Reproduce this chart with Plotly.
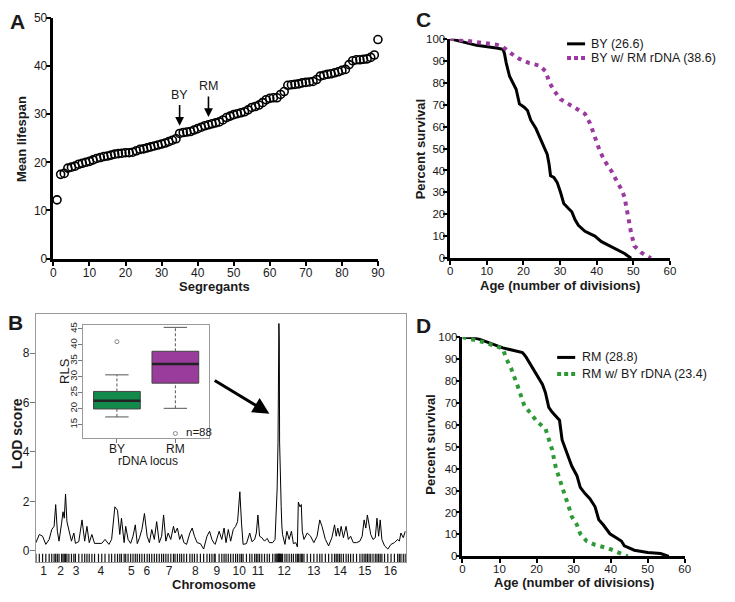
import plotly.graph_objects as go

# ---------------- data ----------------
# Panel A: mean lifespan of segregants (sorted)
segregant_rank = list(range(1, 91))
segregant_lifespan = [
    12.2, 17.5, 17.7, 18.8, 19.0, 19.2, 19.6, 19.8, 20.0, 20.2,
    20.5, 20.8, 21.0, 21.2, 21.3, 21.5, 21.7, 21.8, 21.9, 22.0,
    22.0, 22.1, 22.4, 22.7, 22.8, 23.0, 23.2, 23.4, 23.6, 23.8,
    24.0, 24.3, 24.6, 24.9, 26.0, 26.2, 26.3, 26.4, 26.7, 27.0,
    27.3, 27.6, 27.8, 28.0, 28.2, 28.4, 28.8, 29.3, 29.6, 29.9,
    30.1, 30.3, 30.5, 30.9, 31.4, 31.6, 31.9, 32.4, 33.0, 33.3,
    33.4, 33.4, 34.1, 34.7, 36.0, 36.1, 36.2, 36.3, 36.5, 36.6,
    36.7, 36.8, 37.2, 37.9, 38.1, 38.3, 38.4, 38.6, 38.8, 39.1,
    39.3, 40.3, 41.1, 41.3, 41.3, 41.4, 41.5, 41.8, 42.3, 45.5,
]
parent_labels = ["BY", "RM"]
parent_rank = [35, 43]

# Panel B: LOD profile along the genome
lod_pos = [
    0, 3.4, 6.7, 10, 13.4, 16, 18.4, 20, 21.7, 23.4, 26, 27.4, 28.7, 30, 31.4, 33.4,
    36, 38.4, 40, 43.4, 46.7, 49.4, 51.7, 54, 56.7, 59.4, 63.4, 66.7, 70, 74, 76.7,
    80, 82.7, 85, 86.7, 89.4, 91, 93.4, 96, 98.4, 100.7, 102.7, 105, 107.4, 110,
    112.7, 115, 117.4, 120, 122.4, 125, 127.4, 129.4, 131.7, 134, 136.7, 139.4, 141,
    143.4, 145.7, 147.7, 150, 152.7, 156, 158.4, 160.7, 163.4, 166.7, 170, 173.4,
    176, 178.4, 180.7, 181.7, 185.7, 188.4, 190.7, 192.7, 195, 197.4, 200, 202.4,
    204.4, 206.7, 208.4, 210, 213.4, 216.7, 219, 221.7, 223.4, 225, 226.7, 229,
    231.7, 234.4, 236.7, 240, 242.4, 243.5, 244.5, 245.4, 245.9, 246.3, 246.7, 247.0,
    247.8, 248.6, 249.3, 250, 252.4, 254.4, 256.7, 259, 261, 263.4, 265, 266, 267.7,
    269, 270, 271.7, 275, 278.4, 281.7, 285, 287.7, 290, 293.4, 296.7, 300, 302.7,
    304.4, 306, 307.7, 309.4, 311.7, 314.4, 316.7, 319, 321.7, 325, 328.4, 330.7,
    332.7, 334.4, 336, 337.7, 339.4, 341.7, 344, 345.7, 347.4, 349, 350.7, 353.4,
    356.7, 360, 363.4, 366.7, 368.4, 370, 372.4, 374.4,
]
lod_score = [
    0.33, 0.66, 0.59, 0.26, 0.46, 0.86, 0.99, 1.87, 0.79, 0.39, 1.12, 1.58, 1.32, 2.3, 1.18, 0.79,
    0.39, 0.72, 0.3, 0.37, 1.25, 0.39, 0.99, 0.33, 0.66, 0.3, 0.3, 0.3, 0.46, 0.26, 0.46,
    1.78, 1.64, 0.66, 1.32, 0.33, 0.99, 0.46, 0.3, 0.59, 1.05, 0.29, 0.53, 0.86, 1.51,
    0.59, 0.33, 0.86, 0.46, 1.18, 0.33, 0.59, 1.45, 0.39, 0.72, 0.46, 0.99, 0.72,
    0.92, 0.46, 0.66, 0.33, 0.26, 0.72, 0.92, 0.59, 0.33, 0.29, 0.07, 0.59,
    0.79, 0.46, 0.3, 0.26, 0.79, 0.46, 0.92, 0.33, 0.86, 0.39, 0.86, 0.99,
    1.18, 2.39, 1.12, 0.26, 0.29, 0.72, 0.37, 0.46, 0.72, 1.45, 0.59, 0.53,
    0.39, 0.5, 0.33, 0.33, 0.46, 1.5, 2.5, 4.4, 7.0, 9.2, 8.5, 4.4,
    2.6, 1.8, 1.0, 0.66, 0.26, 0.79, 0.46, 0.79, 0.29, 0.33, 0.16, 1.97, 1.78,
    1.87, 0.79, 0.46, 0.72, 0.59, 0.33, 0.59, 1.25, 0.99, 0.46, 0.2, 0.53, 1.05,
    0.59, 0.92, 0.59, 0.99, 0.53, 0.99, 0.46, 0.59, 0.33, 0.33, 0.39, 0.59,
    1.25, 0.92, 1.45, 1.12, 0.66, 0.46, 0.53, 1.32, 0.59, 1.25, 0.46, 0.2,
    0.07, 0.26, 0.33, 0.46, 0.39, 0.72, 0.53, 0.79,
]
chrom_labels = [str(i) for i in range(1, 17)]
chrom_mid = [7.7, 25, 40.7, 65.7, 96.7, 112.4, 135, 161.7, 183.4, 206, 225, 251.7,
             281.7, 308.4, 333.4, 359.4]

# Inset: RLS by rDNA locus genotype (box statistics)
rdna_groups = ["BY", "RM"]
rls_lower = [17.4, 20.1]
rls_q1 = [19.9, 28.0]
rls_median = [22.5, 34.0]
rls_q3 = [25.4, 38.0]
rls_upper = [30.6, 45.5]
rls_outlier = [41.0, 12.2]
n_segregants = 88

# Panel C: survival, BY vs BY with RM rDNA
by_age = [0, 3.6, 7.2, 12.6, 14.4, 14.8, 15.3, 16.2, 17.1, 18, 18.9, 20.2, 21.1, 22, 23.4,
          25.2, 26.5, 27, 27.4, 28.3, 29.2, 30.1, 31, 32.3, 33.2, 34.1, 35, 36.8, 39.5,
          41.3, 44, 47.6, 49.4]
by_surv = [100, 98.5, 97, 95.8, 95.2, 93.3, 88.9, 82.9, 80, 77, 70.3, 68.8, 67.3, 62.9, 59.1,
           52.5, 47.3, 42.8, 37.6, 36.8, 34.6, 30.2, 25, 22.7, 21.2, 17.5, 15, 12.3, 10.1,
           7.6, 5.3, 2.2, 0]
byrm_age = [0, 3.6, 9, 12.6, 14.4, 16.6, 18.9, 21.6, 24.3, 26.1, 27, 28.3, 30.1, 32.3, 34.6,
            36.8, 38.2, 39.5, 40.9, 42.2, 44, 45.4, 46.7, 47.6, 48.1, 48.5, 49.4, 50.3,
            52.1, 54.8]
byrm_surv = [100, 99.3, 98.2, 97.3, 96.3, 93.3, 90.8, 88.9, 87.8, 85.1, 80.4, 76.5, 72.5,
             70.3, 68.5, 65.8, 61.4, 55.4, 48.7, 44.3, 39.8, 35.4, 31.6, 27.9, 22.7, 18.3,
             11.6, 5.6, 2.7, 0]

# Panel D: survival, RM vs RM with BY rDNA
rm_age = [0, 2.9, 4.7, 6.5, 8.3, 10.9, 13.6, 16.2, 17.1, 18.9, 20.2, 21.6, 22.4, 23.3, 24.2,
          25.6, 26.2, 26.9, 28.2, 29.5, 30.9, 31.8, 33.1, 34.4, 35.8, 36.8, 38, 39.8, 41.5,
          42.9, 43.7, 46.4, 50, 53.5, 55.7]
rm_surv = [100, 99.7, 99, 97.8, 96.6, 95.1, 94, 93, 91.1, 85.9, 82.1, 78.4, 74.7, 68, 65.8,
           63.5, 62.1, 53.1, 47.2, 41.2, 36.8, 31.5, 28.6, 26.3, 22.6, 16.7, 14.4, 10.3,
           8.5, 7, 4.8, 2.8, 1.8, 1.3, 0]
rmby_age = [0, 2.9, 5.6, 8.3, 10.9, 11.8, 13.1, 14.9, 15.8, 16.7, 18.5, 20.2, 22.4, 23.3,
            24.2, 25.2, 26, 26.9, 27.8, 28.7, 29.5, 30.9, 31.8, 33.5, 35.8, 39.3, 41.5, 44.6]
rmby_surv = [100, 99, 97.8, 96.3, 94.8, 90.3, 85.9, 77.7, 73.2, 68.8, 65, 61.3, 58.3, 53.9,
             48.7, 40.5, 36, 32.3, 27.1, 22.6, 18.2, 14.4, 10.3, 7, 5.2, 3.7, 2.2, 0]

legend_c = ["BY (26.6)", "BY w/ RM rDNA (38.6)"]
legend_d = ["RM (28.8)", "RM w/ BY rDNA (23.4)"]

# ---------------- styling helpers ----------------
W, H = 735, 602
OFF = 8  # page body margin offset of the embedded figure
FONT = "Liberation Sans, Arial, Helvetica, sans-serif"
TXT = "#1a1a1a"
PURPLE = "#9b3a9e"
GREEN = "#2e9a35"
BOX_GREEN = "#138a4c"
BOX_PURPLE = "#993c9b"


def fx(p):
    return (p - OFF) / W


def fy(p):
    return 1 - (p - OFF) / H


fig = go.Figure()

# Panel A
fig.add_trace(go.Scatter(
    x=segregant_rank, y=segregant_lifespan, mode="markers", cliponaxis=False,
    marker=dict(symbol="circle-open", size=8, color="black", line=dict(width=1.6, color="black")),
    xaxis="x", yaxis="y", showlegend=False))

# Panel B: LOD curve and marker rug
fig.add_trace(go.Scatter(
    x=lod_pos, y=lod_score, mode="lines", line=dict(color="black", width=1),
    xaxis="x2", yaxis="y2", showlegend=False))
fig.add_trace(go.Scatter(
    x=lod_pos, y=[-0.29] * len(lod_pos), mode="markers",
    marker=dict(symbol="line-ns", size=6, line=dict(width=1.2, color="#111111")),
    xaxis="x2", yaxis="y2", showlegend=False))

# Inset boxplot
box_colors = [BOX_GREEN, BOX_PURPLE]
for i, g in enumerate(rdna_groups):
    xc = i + 1
    fig.add_trace(go.Box(
        x=[xc], q1=[rls_q1[i]], median=[rls_median[i]], q3=[rls_q3[i]],
        lowerfence=[rls_q1[i]], upperfence=[rls_q3[i]], width=0.8, whiskerwidth=0,
        fillcolor=box_colors[i], line=dict(color="#444444", width=1), boxpoints=False,
        xaxis="x3", yaxis="y3", showlegend=False, hoverinfo="skip"))
    for a, b in [(rls_q3[i], rls_upper[i]), (rls_lower[i], rls_q1[i])]:
        fig.add_trace(go.Scatter(
            x=[xc, xc], y=[a, b], mode="lines",
            line=dict(color="#555555", width=1, dash="3px,2px"),
            xaxis="x3", yaxis="y3", showlegend=False))
    for v in [rls_upper[i], rls_lower[i]]:
        fig.add_trace(go.Scatter(
            x=[xc - 0.2, xc + 0.2], y=[v, v], mode="lines",
            line=dict(color="#555555", width=1),
            xaxis="x3", yaxis="y3", showlegend=False))
    fig.add_trace(go.Scatter(
        x=[xc - 0.4, xc + 0.4], y=[rls_median[i], rls_median[i]], mode="lines",
        line=dict(color="#222222", width=2.5),
        xaxis="x3", yaxis="y3", showlegend=False))
    fig.add_trace(go.Scatter(
        x=[xc], y=[rls_outlier[i]], mode="markers",
        marker=dict(symbol="circle-open", size=4, color="#888888", line=dict(width=1)),
        xaxis="x3", yaxis="y3", showlegend=False))

# Panel C
fig.add_trace(go.Scatter(x=by_age, y=by_surv, mode="lines", cliponaxis=False,
                         line=dict(color="black", width=3),
                         xaxis="x4", yaxis="y4", showlegend=False))
fig.add_trace(go.Scatter(x=byrm_age, y=byrm_surv, mode="lines", cliponaxis=False,
                         line=dict(color=PURPLE, width=4, dash="4px,5px"),
                         xaxis="x4", yaxis="y4", showlegend=False))
# Panel D
fig.add_trace(go.Scatter(x=rm_age, y=rm_surv, mode="lines", cliponaxis=False,
                         line=dict(color="black", width=3),
                         xaxis="x5", yaxis="y5", showlegend=False))
fig.add_trace(go.Scatter(x=rmby_age, y=rmby_surv, mode="lines", cliponaxis=False,
                         line=dict(color=GREEN, width=4, dash="4px,5px"),
                         xaxis="x5", yaxis="y5", showlegend=False))

# ---------------- axes ----------------
black_axis = dict(showline=True, linecolor="black", linewidth=2.5, ticks="outside",
                  ticklen=5, tickwidth=2, tickcolor="black", showgrid=False,
                  zeroline=False, ticklabelstandoff=-4,
                  tickfont=dict(family=FONT, size=12, color=TXT))
cd_axis = dict(black_axis, ticklen=4, tickfont=dict(family=FONT, size=11.5, color=TXT))
gray_box = dict(showline=True, mirror=True, linecolor="#9a9a9a", linewidth=1,
                showgrid=False, zeroline=False)

layout_axes = dict(
    xaxis=dict(black_axis, domain=[fx(51), fx(380)], range=[0, 90], dtick=10, tick0=0,
               anchor="y"),
    yaxis=dict(black_axis, domain=[fy(258), fy(12)], range=[0, 50], dtick=10, tick0=0,
               anchor="x"),
    xaxis2=dict(gray_box, domain=[fx(33.3), fx(408.3)], range=[0, 375], anchor="y2",
                ticks="", tickvals=chrom_mid, ticktext=chrom_labels, ticklabelstandoff=-2,
                tickfont=dict(family=FONT, size=12, color=TXT)),
    yaxis2=dict(gray_box, domain=[fy(568), fy(315)], range=[-0.45, 9.57], anchor="x2",
                ticks="outside", ticklen=5, tickcolor="#777777", tickvals=[0, 2, 4, 6, 8],
                ticklabelstandoff=-2, tickfont=dict(family=FONT, size=12, color=TXT)),
    xaxis3=dict(gray_box, domain=[fx(81), fx(209)], range=[0.42, 2.58], anchor="y3",
                ticks="outside", ticklen=4, tickcolor="#777777", tickvals=[1, 2],
                ticktext=rdna_groups, ticklabelstandoff=-4,
                tickfont=dict(family=FONT, size=12, color=TXT)),
    yaxis3=dict(gray_box, domain=[fy(441), fy(326)], range=[10.9, 46.2], anchor="x3",
                ticks="outside", ticklen=4, tickcolor="#777777",
                tickvals=[15, 20, 25, 30, 35, 40, 45], tickangle=-90, ticklabelstandoff=-3,
                tickfont=dict(family=FONT, size=9.5, color=TXT)),
    xaxis4=dict(cd_axis, domain=[fx(453.3), fx(676)], range=[0, 60], dtick=10, tick0=0,
                anchor="y4"),
    yaxis4=dict(cd_axis, domain=[fy(257.7), fy(33.3)], range=[0, 100], dtick=10, tick0=0,
                anchor="x4"),
    xaxis5=dict(cd_axis, domain=[fx(465.7), fx(691)], range=[0, 60], dtick=10, tick0=0,
                anchor="y5"),
    yaxis5=dict(cd_axis, domain=[fy(562.3), fy(338.3)], range=[0, 100], dtick=10, tick0=0,
                anchor="x5"),
)

# ---------------- annotations ----------------
ann = []


def label(text, x, y, size=13, bold=True, angle=0, xanchor="center", color=TXT):
    t = "<b>%s</b>" % text if bold else text
    ann.append(dict(text=t, x=fx(x), y=fy(y), xref="paper", yref="paper",
                    showarrow=False, textangle=angle, xanchor=xanchor, yanchor="middle",
                    font=dict(family=FONT, size=size, color=color)))


# panel letters
label("A", 14.5, 16, size=21)
label("B", 13, 323, size=21)
label("C", 426, 14, size=21)
label("D", 426, 326, size=21)

# axis titles
label("Mean lifespan", 18.5, 135.5, angle=-90)
label("Segregants", 214, 287)
label("LOD score", 13.5, 437, size=14, angle=-90)
label("Chromosome", 214, 591)
label("Percent survival", 423, 146, angle=-90)
label("Age (number of divisions)", 565, 285.5)
label("Percent survival", 433, 448, angle=-90)
label("Age (number of divisions)", 579, 589)
label("RLS", 61.5, 373, size=13, bold=False, angle=-90)
label("rDNA locus", 146.5, 464.5, size=12, bold=False)

ann.append(dict(text="n=%d" % n_segregants, x=2.15, y=12.6, xref="x3", yref="y3",
                showarrow=False, xanchor="left", yanchor="middle",
                font=dict(family=FONT, size=11.5, color=TXT)))

for lab, r in zip(parent_labels, parent_rank):
    tip = segregant_lifespan[r - 1] + 1.6
    ann.append(dict(x=r, y=tip, ax=r, ay=tip + 4.6, xref="x", yref="y", axref="x",
                    ayref="y", showarrow=True, arrowhead=2, arrowsize=1.1,
                    arrowwidth=1.6, arrowcolor="black", text=""))
    ann.append(dict(text=lab, x=r, y=tip + 4.6, xref="x", yref="y", showarrow=False,
                    yanchor="bottom", font=dict(family=FONT, size=12.5, color=TXT)))

ann.append(dict(x=236.7, y=5.55, ax=179.7, ay=6.93, xref="x2", yref="y2", axref="x2",
                ayref="y2", showarrow=True, arrowhead=2, arrowsize=1.1, arrowwidth=3,
                arrowcolor="black", text=""))

shapes = []


def legend_item(x0, x1, y, color, width, dash, text, xt):
    shapes.append(dict(type="line", xref="paper", yref="paper", x0=fx(x0), x1=fx(x1),
                       y0=fy(y), y1=fy(y), line=dict(color=color, width=width, dash=dash)))
    label(text, xt, y, size=12.5, bold=False, xanchor="left")


legend_item(571.7, 590, 38.5, "black", 3, "solid", legend_c[0], 593.5)
legend_item(571.7, 590, 53, PURPLE, 4, "4px,3px", legend_c[1], 593.5)
legend_item(561.7, 580, 359, "black", 3, "solid", legend_d[0], 585)
legend_item(561.7, 580, 376, GREEN, 4, "4px,3px", legend_d[1], 585)

fig.update_layout(
    width=W, height=H, margin=dict(l=0, r=0, t=0, b=0),
    paper_bgcolor="white", plot_bgcolor="white", showlegend=False,
    font=dict(family=FONT, color=TXT),
    annotations=ann, shapes=shapes, **layout_axes)

fig.write_html("out.html")
